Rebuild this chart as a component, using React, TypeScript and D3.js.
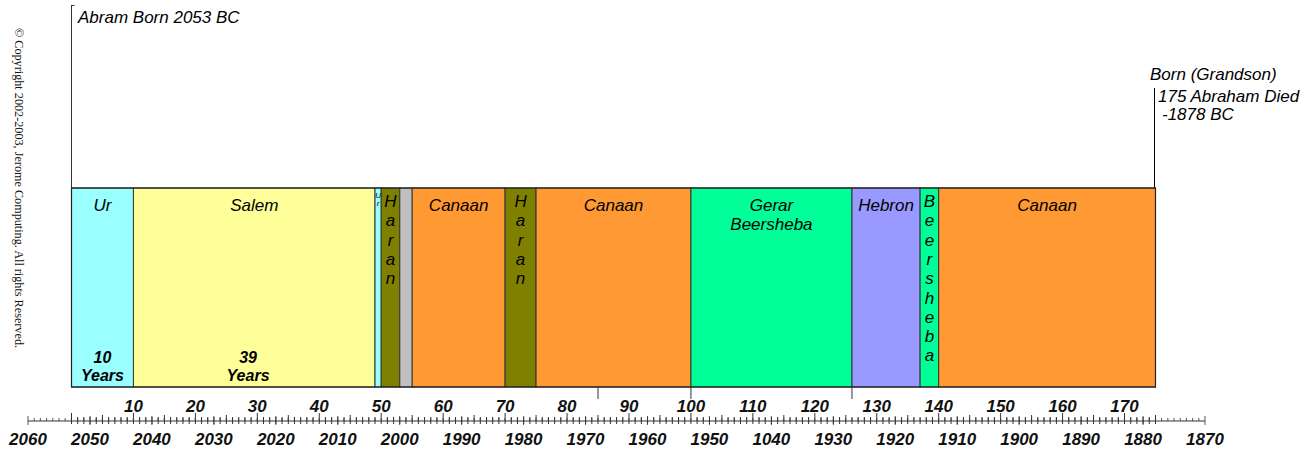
import { useEffect } from 'react';
import * as d3 from 'd3';

// Abraham's life, by age (years)
const places = ['Ur', 'Salem', 'Ur', 'Haran', '', 'Canaan', 'Haran', 'Canaan', 'Gerar|Beersheba', 'Hebron', 'Beersheba', 'Canaan'];
const startAges = [0, 10, 49, 50, 53, 55, 70, 75, 100, 126, 137, 140];
const endAges = [10, 49, 50, 53, 55, 70, 75, 100, 126, 137, 140, 175];
const placeColors = ['#99FFFF', '#FFFF99', '#99FFFF', '#808000', '#C0C0C0', '#FF9933', '#808000', '#FF9933', '#00FF99', '#9999FF', '#00FF99', '#FF9933'];
const verticalLabel = [false, false, true, true, false, false, true, false, false, false, true, false];
const durationNotes = [{ age: 5, value: '10' }, { age: 28.5, value: '39' }];
const eventAges = [85, 100, 126];
const ageTicks = d3.range(10, 171, 10);
const bcTicks = d3.range(2060, 1869, -10);
const bcTickLabels = ['2060', '2050', '2040', '2030', '2020', '2010', '2000', '1990', '1980', '1970', '1960', '1950', '1040', '1930', '1920', '1910', '1900', '1890', '1880', '1870'];

const W = 1315;
const H = 452;
const font = '"Liberation Sans", Arial, sans-serif';

export default function App() {
  useEffect(() => {
    document.body.style.margin = '0';
  }, []);

  const x = d3.scaleLinear().domain([0, 175]).range([71.5, 1155.5]);
  const xBC = d3.scaleLinear().domain([2060, 1870]).range([28, 1205]);
  const barTop = 188;
  const barBottom = 387;
  const rulerY = 421;

  const ageMinor = d3.range(0, 176, 1);
  const bcMinor = d3.range(2060, 1869, -1);

  return (
    <svg width={W} height={H} style={{ display: 'block', background: '#fff' }} fontFamily={font}>
      {/* copyright */}
      <text
        transform="translate(15,28) rotate(90)"
        fontFamily='"Liberation Serif", "Times New Roman", serif'
        fontSize={12.2}
        fill="#111"
      >
        © Copyright 2002-2003, Jerome Computing.  All rights Reserved.
      </text>

      {/* birth / death markers */}
      <line x1={x(0)} x2={x(0)} y1={5} y2={barTop} stroke="#333" />
      <line x1={x(0)} x2={x(0) + 3} y1={5.5} y2={5.5} stroke="#333" />
      <text x={78} y={23} fontSize={17} fontStyle="italic" fill="#000">Abram Born 2053 BC</text>
      <line x1={x(175) - 1} x2={x(175) - 1} y1={88} y2={barTop} stroke="#000" />
      <text x={1150} y={80} fontSize={17} fontStyle="italic" fill="#000">Born (Grandson)</text>
      <text x={1158} y={102} fontSize={17} fontStyle="italic" fill="#000">175 Abraham Died</text>
      <text x={1162} y={120} fontSize={17} fontStyle="italic" fill="#000">-1878 BC</text>

      {/* residence bars */}
      {places.map((p, i) => {
        const x0 = x(startAges[i]);
        const x1 = x(endAges[i]);
        const cx = (x0 + x1) / 2;
        const w = x1 - x0;
        let label = null;
        if (verticalLabel[i]) {
          const small = w < 8;
          const fs = small ? 8 : 17;
          const step = small ? 8 : 19.3;
          label = p.split('').map((ch, j) => (
            <text key={j} x={cx} y={(small ? 198 : 207) + j * step} fontSize={fs} fontStyle="italic" textAnchor="middle" fill="#000">{ch}</text>
          ));
        } else if (p) {
          label = p.split('|').map((ln, j) => (
            <text key={j} x={cx} y={211 + j * 18.5} fontSize={17} fontStyle="italic" textAnchor="middle" fill="#000">{ln}</text>
          ));
        }
        return (
          <g key={i}>
            <rect x={x0} y={barTop} width={w} height={barBottom - barTop} fill={placeColors[i]} stroke="#333" strokeWidth={1} />
            {label}
          </g>
        );
      })}
      <rect x={x(0)} y={barTop} width={x(175) - x(0)} height={barBottom - barTop} fill="none" stroke="#222" strokeWidth={1.2} />

      {durationNotes.map((d, i) => (
        <g key={i}>
          <text x={x(d.age)} y={363} fontSize={16} fontStyle="italic" fontWeight="bold" textAnchor="middle" fill="#000">{d.value}</text>
          <text x={x(d.age)} y={381} fontSize={16} fontStyle="italic" fontWeight="bold" textAnchor="middle" fill="#000">Years</text>
        </g>
      ))}

      {/* event markers below bars */}
      {eventAges.map((a) => (
        <line key={a} x1={x(a)} x2={x(a)} y1={barBottom} y2={399} stroke="#333" />
      ))}

      {/* ruler */}
      <line x1={xBC(2060)} x2={xBC(1870)} y1={rulerY} y2={rulerY} stroke="#333" strokeWidth={1.2} />
      {bcMinor.map((y) => (
        <line key={'b' + y} x1={xBC(y)} x2={xBC(y)} y1={rulerY - (y % 10 === 0 ? 5 : 3)} y2={rulerY + (y % 10 === 0 ? 4 : 0)} stroke="#444" strokeWidth={0.9} />
      ))}
      {ageMinor.map((a) => {
        const up = a % 10 === 0 ? 8 : a % 5 === 0 ? 6 : 4;
        return <line key={'a' + a} x1={x(a)} x2={x(a)} y1={rulerY - up} y2={rulerY + 3} stroke="#333" strokeWidth={1} />;
      })}
      {ageTicks.map((a) => (
        <text key={'al' + a} x={x(a)} y={412} fontSize={17} fontStyle="italic" fontWeight="bold" textAnchor="middle" fill="#111">{a}</text>
      ))}
      {bcTicks.map((y, i) => (
        <text key={'bl' + y} x={xBC(y)} y={445} fontSize={17} fontStyle="italic" fontWeight="bold" textAnchor="middle" fill="#111">{bcTickLabels[i]}</text>
      ))}
    </svg>
  );
}
